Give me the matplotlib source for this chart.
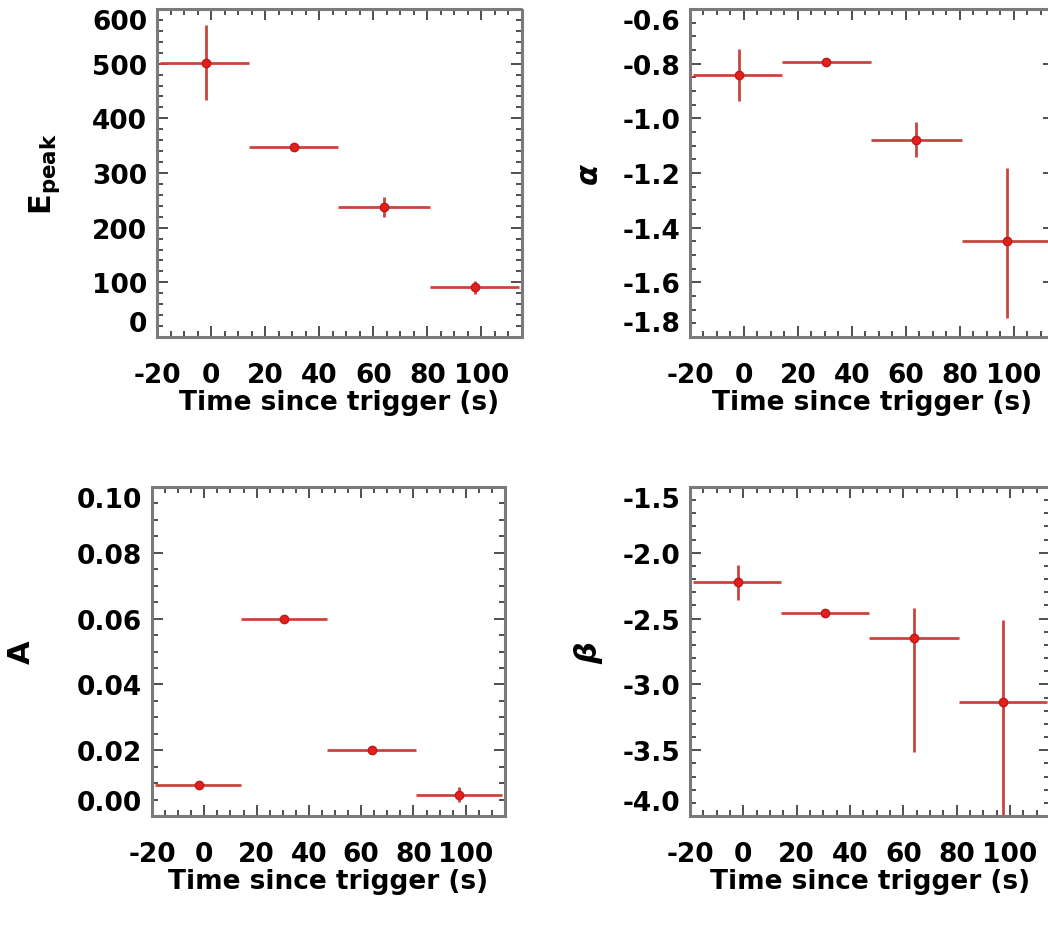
import matplotlib
matplotlib.use("Agg")
import matplotlib.pyplot as plt
from matplotlib.ticker import MultipleLocator, FormatStrFormatter
import numpy as np

plt.rcParams['font.family'] = ['DejaVu Sans']
plt.rcParams['font.weight'] = 'bold'
plt.rcParams['axes.labelweight'] = 'bold'
plt.rcParams['axes.unicode_minus'] = False
plt.rcParams['mathtext.fontset'] = 'dejavusans'

# ---- data ----
t_mid = np.array([-2.0, 30.5, 64.0, 97.5])
t_start = np.array([-19.0, 14.0, 47.0, 81.0])
t_end = np.array([14.0, 47.0, 81.0, 114.0])

epeak = np.array([502.0, 347.0, 238.0, 91.0])
epeak_err = np.array([68.0, 6.0, 18.0, 12.0])

alpha = np.array([-0.84, -0.795, -1.08, -1.45])
alpha_lo = np.array([0.095, 0.012, 0.06, 0.28])
alpha_hi = np.array([0.095, 0.012, 0.065, 0.27])

amp = np.array([0.0095, 0.060, 0.020, 0.0065])
amp_err = np.array([0.0012, 0.0008, 0.0008, 0.0022])

beta = np.array([-2.22, -2.46, -2.65, -3.13])
beta_lo = np.array([0.14, 0.03, 0.86, 0.87])
beta_hi = np.array([0.13, 0.03, 0.23, 0.62])

xticks = [-20, 0, 20, 40, 60, 80, 100]
xlabel = "Time since trigger (s)"

W, H = 1048, 929
fig = plt.figure(figsize=(W / 100, H / 100), dpi=100)


def add_axes(l, r, t, b):
    return fig.add_axes([l / W, (H - b) / H, (r - l) / W, (b - t) / H])


ax_tl = add_axes(157, 522, 10, 338)
ax_tr = add_axes(690, 1054, 10, 338)
ax_bl = add_axes(152, 505, 488, 817)
ax_br = add_axes(690, 1050, 488, 817)

xerr = [t_mid - t_start, t_end - t_mid]

panels = [
    (ax_tl, epeak, [epeak_err, epeak_err], (0, 600), 100, 20, r'E$_{\bf peak}$', '%d', -0.26),
    (ax_tr, alpha, [alpha_lo, alpha_hi], (-1.8, -0.6), 0.2, 0.05, r'$\alpha$', '%.1f', -0.235),
    (ax_bl, amp, [amp_err, amp_err], (0.0, 0.10), 0.02, 0.005, 'A', '%.2f', -0.33),
    (ax_br, beta, [beta_lo, beta_hi], (-4.0, -1.5), 0.5, 0.1, r'$\beta$', '%.1f', -0.235),
]

for ax, y, yerr, ylim, major, minor, ylab, fmt, labx in panels:
    ax.errorbar(t_mid, y, xerr=xerr, yerr=yerr, fmt='none', ecolor='#c9453f',
                elinewidth=2.0, capsize=0, zorder=2)
    ax.plot(t_mid, y, 'o', color='#e3201c', ms=6, mec='#c01818', zorder=3)
    ax.set_xlim(-20, 115)
    ax.set_ylim(*ylim)
    ax.set_xticks(xticks)
    ax.xaxis.set_minor_locator(MultipleLocator(5))
    yt = np.arange(ylim[0], ylim[1] + major * 0.5, major)
    ax.set_yticks(yt)
    ax.yaxis.set_minor_locator(MultipleLocator(minor))
    ax.yaxis.set_major_formatter(FormatStrFormatter(fmt))
    ax.tick_params(which='both', direction='in', top=True, right=True,
                   color='#404040', width=1.3)
    ax.tick_params(which='major', length=8)
    ax.tick_params(which='minor', length=4)
    ax.tick_params(axis='x', which='major', pad=18, labelsize=19)
    ax.tick_params(axis='y', which='major', pad=7, labelsize=19)
    for s in ax.spines.values():
        s.set_color('#7a7a7a')
        s.set_linewidth(2.2)
        s.set_linestyle((0, (2, 1)))
    ax.set_xlabel(xlabel, fontsize=19, labelpad=1)
    ax.set_ylabel(ylab, fontsize=22)
    ax.yaxis.set_label_coords(labx, 0.5)
    labels = ax.get_yticklabels()
    labels[0].set_va('bottom')
    labels[-1].set_va('top')

fig.savefig('out.png', dpi=100)
